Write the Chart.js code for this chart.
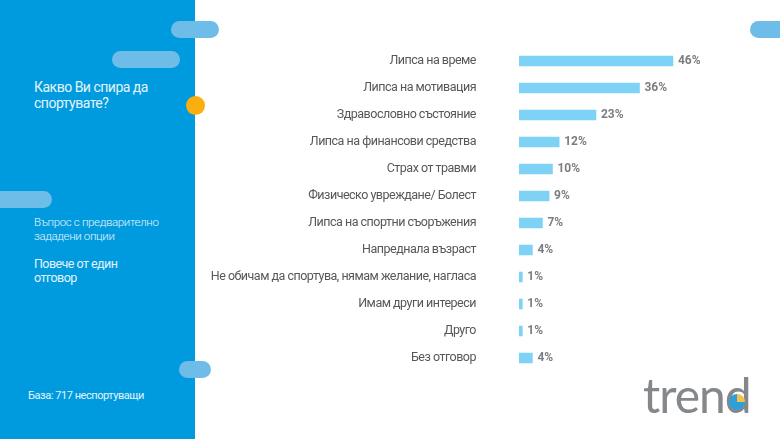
<!DOCTYPE html>
<html>
<head>
<meta charset="utf-8">
<script src="https://cdn.jsdelivr.net/npm/chart.js@4"></script>
<style>
html, body { margin: 0; padding: 0; background: #fff; }
body { width: 780px; height: 439px; position: relative; overflow: hidden; font-family: Roboto, sans-serif; }
#side { position: absolute; left: 0; top: 0; width: 195px; height: 439px; background: #009bdf; }
.pill { position: absolute; height: 17px; border-radius: 9px; background: #6dbde8; }
#dot { position: absolute; left: 186px; top: 96px; width: 19px; height: 19px; border-radius: 50%; background: #fdae0f; }
.txt { position: absolute; color: #e4f4fc; white-space: nowrap; }
#chart-wrap { position: absolute; left: 0; top: -3px; width: 780px; height: 443px; }
#logo { position: absolute; left: 643px; top: 366px; font-family: Lato, sans-serif; font-size: 48px; color: #85888b; letter-spacing: -1px; }
#logo-mark { position: absolute; left: 729px; top: 394px; width: 16px; height: 16px; border-radius: 50%; background: conic-gradient(#f2c14e 0 25%, #2f9fd8 25% 100%); }
</style>
</head>
<body>
<div id="chart-wrap"><canvas id="barChart"></canvas></div>
<div id="side"></div>
<div class="pill" style="left:171px;top:21px;width:48px"></div>
<div class="pill" style="left:112px;top:51px;width:68px"></div>
<div class="pill" style="left:-10px;top:191px;width:62px"></div>
<div class="pill" style="left:179px;top:361px;width:32px"></div>
<div class="pill" style="left:750px;top:21px;width:40px"></div>
<div id="dot"></div>
<div class="txt" style="left:34px;top:79px;font-size:14px;line-height:16px;letter-spacing:-0.5px">Какво Ви спира да<br>спортувате?</div>
<div class="txt" style="left:34px;top:215px;font-size:11.5px;line-height:14px;font-weight:300;letter-spacing:-0.35px">Въпрос с предварително<br>зададени опции</div>
<div class="txt" style="left:34px;top:257px;font-size:12.5px;line-height:14px;letter-spacing:-0.55px">Повече от един<br>отговор</div>
<div class="txt" style="left:28px;top:389px;font-size:11px;line-height:14px;letter-spacing:-0.45px">База: 717 неспортуващи</div>
<div id="logo">trend</div>
<div id="logo-mark"></div>
<script>
const categories = [
    "Липса на време",
    "Липса на мотивация",
    "Здравословно състояние",
    "Липса на финансови средства",
    "Страх от травми",
    "Физическо увреждане/ Болест",
    "Липса на спортни съоръжения",
    "Напреднала възраст",
    "Не обичам да спортува, нямам желание, нагласа",
    "Имам други интереси",
    "Друго",
    "Без отговор"
];
const percents = [46, 36, 23, 12, 10, 9, 7, 4, 1, 1, 1, 4];

// tighter text, the original uses a condensed face
const tightText = {
    id: 'tightText',
    beforeDraw(chart) { chart.ctx.letterSpacing = '-0.5px'; }
};

// draws the NN% text next to each bar
const valueLabels = {
    id: 'valueLabels',
    afterDatasetsDraw(chart) {
        const ctx = chart.ctx;
        const meta = chart.getDatasetMeta(0);
        ctx.save();
        ctx.letterSpacing = '0px';
        ctx.font = '700 12px Roboto';
        ctx.fillStyle = '#7b7d80';
        ctx.textAlign = 'left';
        ctx.textBaseline = 'middle';
        meta.data.forEach((bar, i) => {
            ctx.fillText(percents[i] + '%', bar.x + 5, bar.y);
        });
        ctx.restore();
    }
};

new Chart(document.getElementById('barChart').getContext('2d'), {
    type: 'bar',
    data: {
        labels: categories,
        datasets: [{
            data: percents,
            backgroundColor: '#7ed2f5',
            borderWidth: 0,
            barThickness: 10
        }]
    },
    options: {
        indexAxis: 'y',
        responsive: true,
        maintainAspectRatio: false,
        animation: false,
        layout: { padding: { top: 39.5, bottom: 68.5, left: 0, right: 0 } },
        plugins: { legend: { display: false }, tooltip: { enabled: false } },
        scales: {
            x: { display: false, min: 0, max: 78 },
            y: {
                afterFit: (scale) => { scale.width = 519; },
                grid: { display: false, drawTicks: false },
                border: { display: false },
                ticks: {
                    color: '#55585b',
                    padding: 43,
                    autoSkip: false,
                    font: { family: 'Roboto', size: 12.5 }
                }
            }
        }
    },
    plugins: [tightText, valueLabels]
});
</script>
</body>
</html>
